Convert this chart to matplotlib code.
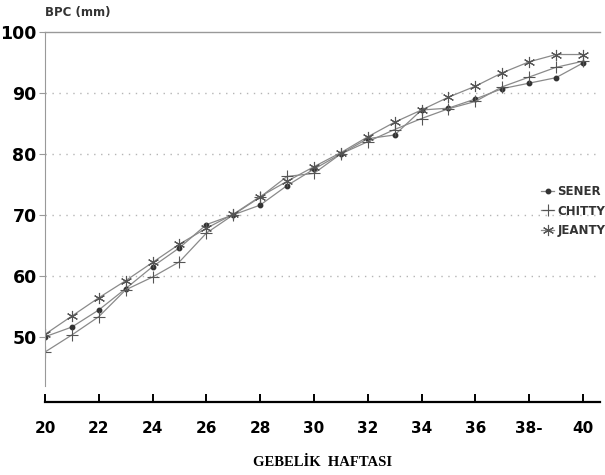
import matplotlib
matplotlib.use("Agg")
import matplotlib.pyplot as plt

# gestational week vs BPC (mm)
weeks = list(range(20, 41))
sener = [50.0, 51.6, 54.4, 57.9, 61.5, 64.6, 68.4, 70.0, 71.6, 74.8, 77.5,
         80.0, 82.5, 83.1, 87.2, 87.5, 89.0, 90.7, 91.6, 92.5, 94.9]
chitty = [47.5, 50.3, 53.3, 57.7, 59.8, 62.3, 67.0, 70.0, 72.9, 76.3, 76.8,
          80.0, 82.0, 84.0, 85.8, 87.4, 88.6, 91.0, 92.6, 94.2, 95.2]
jeanty = [50.4, 53.4, 56.4, 59.2, 62.2, 65.2, 67.8, 70.1, 73.0, 75.5, 77.9,
          80.2, 82.8, 85.2, 87.2, 89.3, 91.1, 93.3, 95.1, 96.3, 96.3]

xticks = [20, 22, 24, 26, 28, 30, 32, 34, 36, 38, 40]
xticklabels = ["20", "22", "24", "26", "28", "30", "32", "34", "36", "38-", "40"]
yticks = [50, 60, 70, 80, 90, 100]

LINE = "#8a8a8a"
MARK = "#333333"

fig = plt.figure(figsize=(6.05, 4.75), dpi=100)
ax = fig.add_axes([0.0744, 0.1537, 0.917, 0.779])

ax.plot(weeks, sener, color=LINE, lw=0.9, marker="o", ms=3.2,
        mfc=MARK, mec=MARK, label="SENER")
ax.plot(weeks, chitty, color=LINE, lw=0.9, marker="+", ms=9, mew=0.8,
        mec="#555555", label="CHITTY")
ax.plot(weeks, jeanty, color=LINE, lw=0.9, marker=(6, 2, 0), ms=8, mew=0.8,
        mec="#555555", label="JEANTY")

ax.set_xlim(20, 40.63)
ax.set_ylim(39.3, 100)

for v in [60, 70, 80, 90]:
    ax.axhline(v, color="#b5b5b5", lw=1.0, ls=(0, (1, 4)), zorder=0)

ax.spines["right"].set_visible(False)
ax.spines["top"].set_color("#999999")
ax.spines["top"].set_linewidth(1.0)
ax.spines["left"].set_color("#999999")
ax.spines["left"].set_linewidth(0.8)
ax.spines["left"].set_bounds(42, 100)
ax.spines["bottom"].set_linewidth(1.6)

ax.set_yticks(yticks)
ax.set_yticklabels([str(v) for v in yticks], fontsize=12.5, fontweight="bold",
                   family="DejaVu Sans")
ax.tick_params(axis="y", length=4, width=0.8, color="#999999", pad=2)

ax.set_xticks(xticks)
ax.set_xticklabels(xticklabels, fontsize=11, fontweight="bold",
                   family="DejaVu Sans")
ax.tick_params(axis="x", direction="in", length=6, width=1.4, pad=14)

ax.text(0.0, 1.035, "BPC (mm)", transform=ax.transAxes, fontsize=8.5,
        fontweight="bold", color="#333333", ha="left", va="bottom")
ax.set_xlabel("GEBELİK  HAFTASI", family="Liberation Serif", fontsize=10.5,
              fontweight="bold", labelpad=14)

leg = ax.legend(loc="upper left", bbox_to_anchor=(0.875, 0.615), frameon=False,
                handlelength=1.1, handletextpad=0.3, labelspacing=0.55,
                prop={"size": 8.5, "weight": "bold"})
for t in leg.get_texts():
    t.set_color("#333333")

fig.savefig("out.png", dpi=100)
